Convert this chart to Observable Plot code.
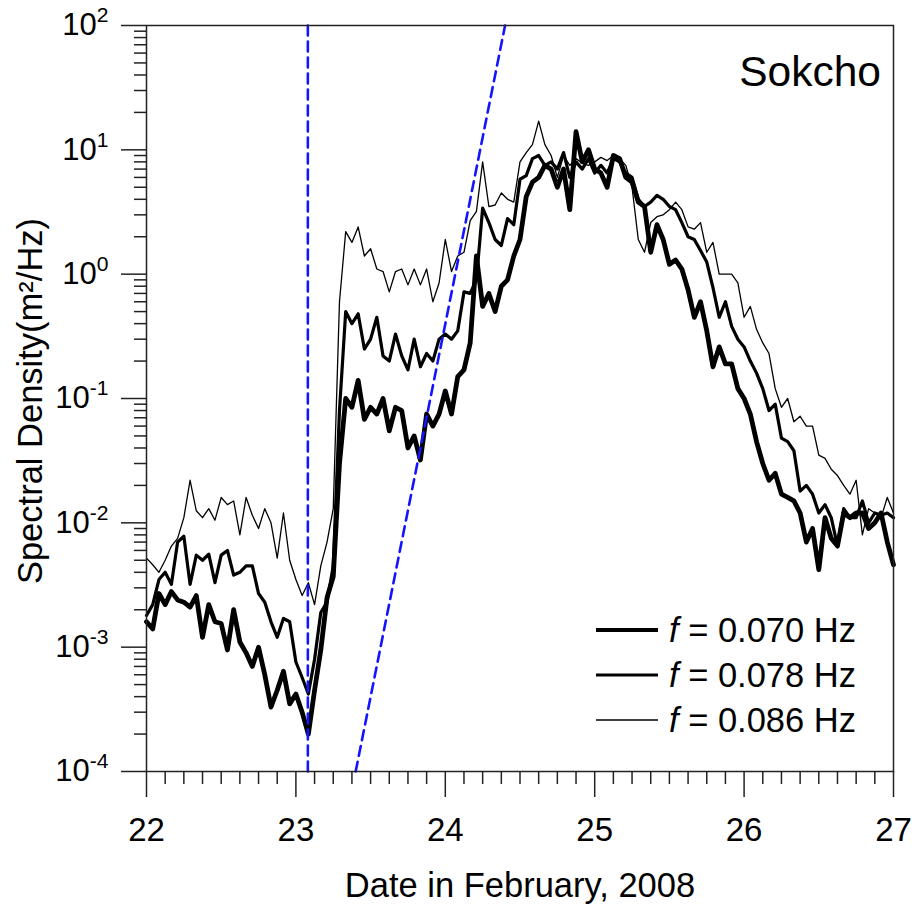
<!DOCTYPE html>
<html><head><meta charset="utf-8">
<script src="https://cdn.jsdelivr.net/npm/d3@7"></script>
<script src="https://cdn.jsdelivr.net/npm/@observablehq/plot@0.6"></script>
<style>body{margin:0;background:#fff} #chart{width:912px;height:907px}</style>
</head><body><div id="chart"></div>
<script>
// hourly samples starting 22 Feb 2008 00:00
const startDay = 22;
const hours = d3.range(121);

const f070 = [
1.6e-3,1.4e-3,2.7e-3,2.2e-3,2.8e-3,2.4e-3,2.3e-3,2.1e-3,2.6e-3,1.2e-3,
2.2e-3,1.6e-3,1.55e-3,9.5e-4,2.0e-3,1.1e-3,9e-4,7e-4,1.0e-3,6e-4,
3.3e-4,4.5e-4,6.4e-4,3.5e-4,4.2e-4,3e-4,2e-4,4.5e-4,9.5e-4,2.5e-3,
3.7e-3,0.03,0.1,0.085,0.14,0.068,0.085,0.075,0.1,0.055,
0.085,0.08,0.04,0.05,0.032,0.075,0.06,0.075,0.115,0.075,
0.15,0.17,0.28,1.4,0.55,0.7,0.5,0.8,0.9,1.4,
1.9,4.2,5.5,6,7.5,7,5,7,3.3,14,
8,10,7,6.5,5,9,8.5,6,5.5,3.8,
3.5,1.5,2.5,1.9,1.2,1.3,1.1,0.75,0.45,0.6,
0.35,0.18,0.26,0.19,0.19,0.12,0.1,0.075,0.045,0.03,
0.022,0.025,0.017,0.016,0.015,0.012,0.007,0.009,0.0042,0.011,
0.0075,0.0065,0.012,0.011,0.012,0.012,0.009,0.01,0.012,0.007,0.0046];

const f078 = [
1.8e-3,2.2e-3,3.5e-3,4.0e-3,3.2e-3,7e-3,7.8e-3,3.2e-3,5.5e-3,5.0e-3,
5.6e-3,3.3e-3,5.5e-3,6e-3,3.8e-3,4.0e-3,4.5e-3,4.5e-3,2.7e-3,2.3e-3,
1.6e-3,1.2e-3,1.7e-3,1.6e-3,7.6e-4,5.7e-4,4.2e-4,8e-4,1.9e-3,2.3e-3,
4.5e-3,0.08,0.5,0.4,0.48,0.25,0.3,0.45,0.22,0.2,
0.33,0.22,0.17,0.3,0.18,0.23,0.2,0.3,0.33,0.3,
0.35,0.72,0.7,0.9,3.4,2.6,1.9,1.7,2.8,2.5,
5.8,6.2,8.5,9,7.5,8,7,9.5,6,8,
7,8.5,6.5,7.5,6.5,8.5,8,6.5,6,4,
3.5,3.8,4.3,4.0,3.5,3.3,2.6,2.0,1.9,1.55,
1.25,0.78,0.45,0.6,0.38,0.3,0.26,0.2,0.16,0.12,
0.08,0.09,0.048,0.045,0.038,0.018,0.02,0.017,0.012,0.014,
0.011,0.0065,0.013,0.011,0.011,0.015,0.01,0.012,0.0115,0.012,0.011];

const f086 = [
5.2e-3,4.6e-3,4.0e-3,5.0e-3,6.5e-3,7.5e-3,1.1e-2,2.2e-2,1.25e-2,1.1e-2,
1.3e-2,1.05e-2,1.6e-2,1.4e-2,1.5e-2,8e-3,1.6e-2,1.15e-2,9e-3,1.3e-2,
1.0e-2,5.2e-3,1.2e-2,5e-3,3.5e-3,2.6e-3,3.3e-3,2.2e-3,4.5e-3,7e-3,
1.3e-2,0.6,2.2,1.8,2.4,1.4,1.6,1.1,1.05,0.72,
1.05,1.1,0.82,1.1,0.82,1.1,0.6,0.85,1.9,1.05,
1.4,1.5,2.7,3.2,8.0,3.5,3.6,4.5,4.0,3.8,
8.0,9.5,11,17,11,9,6,9,7.5,8.5,
7.8,7.5,8,8.7,8.2,9,8.5,7.5,5.0,1.9,
1.5,2.6,2.9,3.0,3.3,3.8,3.3,2.4,2.3,2.6,
1.5,1.8,1.0,1.0,1.0,0.85,0.45,0.55,0.36,0.28,
0.23,0.12,0.085,0.1,0.065,0.072,0.06,0.06,0.035,0.033,
0.027,0.024,0.02,0.017,0.022,0.008,0.013,0.012,0.011,0.016,0.012];

const seriesNames = ["0.070", "0.078", "0.086"];
const seriesWidths = [4.8, 3.2, 1.3];

// blue dashed reference lines (date, spectral density)
const frontVertX = [23.08, 23.08];
const frontVertY = [1e-4, 1e2];
const frontSlopeX = [23.4, 24.4];
const frontSlopeY = [1e-4, 1e2];

const xTicks = [22, 23, 24, 25, 26, 27];
const xMinor = d3.range(22, 27.0001, 0.125).filter(d => Math.abs(d - Math.round(d)) > 1e-6);
const yTicks = [1e-4, 1e-3, 1e-2, 1e-1, 1, 10, 100];
const yMinor = [];
for (let k = -4; k < 2; k++) for (let m = 2; m <= 9; m++) yMinor.push(m * Math.pow(10, k));

const allSeries = [f070, f078, f086];
const rows = [];
allSeries.forEach((s, si) => s.forEach((v, i) => rows.push({t: startDay + hours[i] / 24, v, s: si})));

const font = "Liberation Sans, Arial, sans-serif";
const axisColor = "#222";

const plot = Plot.plot({
  width: 912, height: 907,
  marginLeft: 146, marginRight: 19, marginTop: 25, marginBottom: 136,
  style: {fontFamily: font, background: "#fff", color: "#000", overflow: "visible"},
  x: {domain: [22, 27]},
  y: {type: "log", domain: [1e-4, 1e2]},
  marks: [
    Plot.line(rows.filter(d => d.s === 2), {x: "t", y: "v", stroke: "#000", strokeWidth: seriesWidths[2], strokeLinejoin: "round"}),
    Plot.line(rows.filter(d => d.s === 1), {x: "t", y: "v", stroke: "#000", strokeWidth: seriesWidths[1], strokeLinejoin: "round"}),
    Plot.line(rows.filter(d => d.s === 0), {x: "t", y: "v", stroke: "#000", strokeWidth: seriesWidths[0], strokeLinejoin: "round"}),
    Plot.line(frontVertX.map((x, i) => ({x, y: frontVertY[i]})), {x: "x", y: "y", stroke: "#1414ff", strokeWidth: 2.6, strokeDasharray: "10,6"}),
    Plot.line(frontSlopeX.map((x, i) => ({x, y: frontSlopeY[i]})), {x: "x", y: "y", stroke: "#1414ff", strokeWidth: 2.6, strokeDasharray: "10,6"}),
    Plot.axisY(yMinor, {tickSize: 12, tickFormat: () => "", label: null, stroke: axisColor, strokeWidth: 1.5}),
    Plot.axisY(yTicks, {tickSize: 25, tickPadding: 13, fontSize: 30, tickFormat: d => String(Math.round(Math.log10(d))), label: null, stroke: axisColor, strokeWidth: 1.5, fill: "#000"}),
    Plot.axisX(xMinor, {tickSize: 13, tickFormat: () => "", label: null, stroke: axisColor, strokeWidth: 1.5}),
    Plot.axisX(xTicks, {tickSize: 26, tickPadding: 20, fontSize: 32, tickFormat: d => String(d), label: null, stroke: axisColor, strokeWidth: 1.5, fill: "#000"}),
    Plot.frame({stroke: axisColor, strokeWidth: 1.5})
  ]
});
document.getElementById("chart").appendChild(plot);

const svg = d3.select(plot);
svg.selectAll('g[aria-label="x-axis tick label"]').attr("font-size", 33);
svg.selectAll('g[aria-label="x-axis tick label"] text').attr("font-size", 33);
svg.selectAll('g[aria-label="y-axis tick label"]').attr("font-size", 31);
// powers of ten with superscripts
svg.selectAll('g[aria-label="y-axis tick label"] text').each(function () {
  const e = this.textContent;
  if (!e) return;
  const t = d3.select(this);
  t.attr("font-size", 31);
  t.text("10");
  t.append("tspan").attr("dy", "-0.62em").attr("font-size", "0.68em").text(e);
});

// axis titles
svg.append("text").attr("x", 520).attr("y", 897).attr("text-anchor", "middle")
  .attr("font-family", font).attr("font-size", 34.5).attr("fill", "#000").text("Date in February, 2008");
svg.append("text").attr("transform", "translate(42,401) rotate(-90)").attr("text-anchor", "middle")
  .attr("font-family", font).attr("font-size", 34.5).attr("fill", "#000").text("Spectral Density(m²/Hz)");
// station name
svg.append("text").attr("x", 881).attr("y", 86).attr("text-anchor", "end")
  .attr("font-family", font).attr("font-size", 42.5).attr("fill", "#000").text("Sokcho");

// legend
const lg = svg.append("g").attr("font-family", font).attr("font-size", 34.5).attr("fill", "#000").attr("text-anchor", "start");
seriesNames.forEach((name, i) => {
  const y = 630 + i * 45;
  lg.append("line").attr("x1", 596).attr("x2", 658).attr("y1", y).attr("y2", y)
    .attr("stroke", "#000").attr("stroke-width", [4, 3, 1.3][i]);
  const tx = lg.append("text").attr("x", 669).attr("y", y).attr("dy", "0.36em").attr("text-anchor", "start");
  tx.append("tspan").attr("font-style", "italic").text("f");
  tx.append("tspan").text(" = " + name + " Hz");
});
</script>
</body></html>
